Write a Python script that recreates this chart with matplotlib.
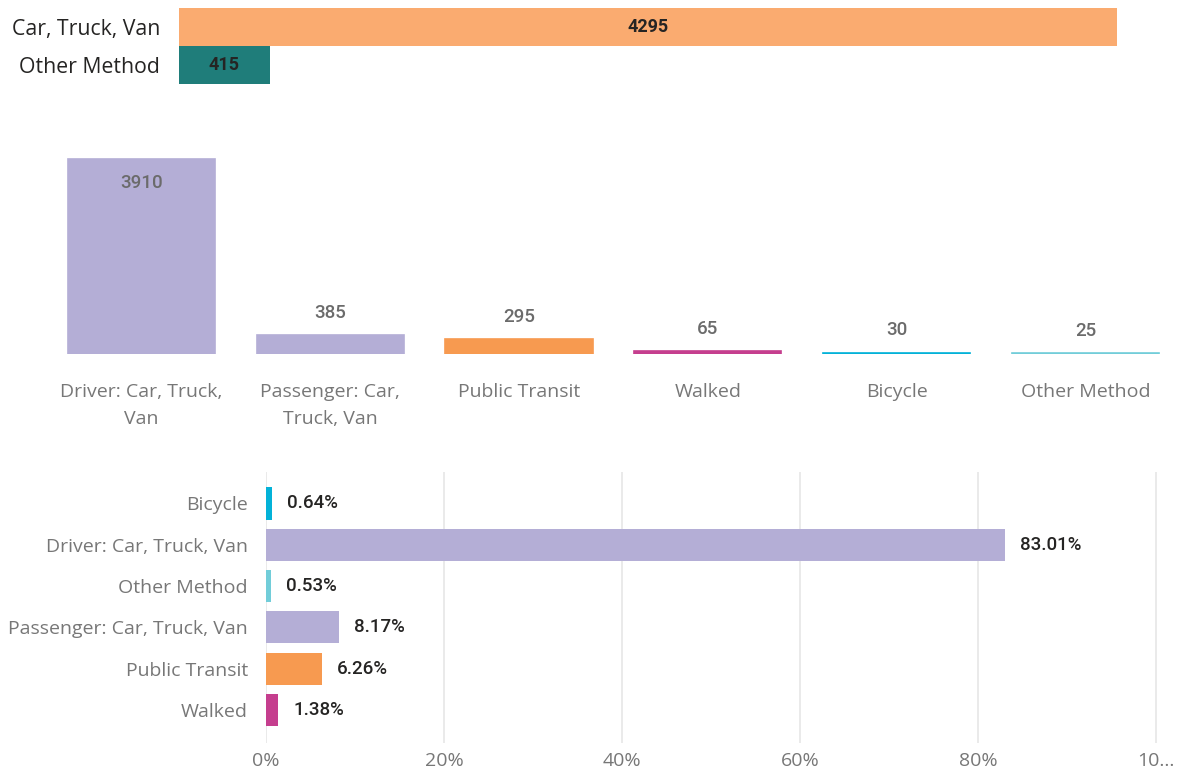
import matplotlib
matplotlib.use("Agg")
import matplotlib.pyplot as plt

# ---- data ----
top_cats = ["Car, Truck, Van", "Other Method"]
top_vals = [4295, 415]
top_colors = ["#FAAB70", "#1F7D7A"]

mid_cats = ["Driver: Car, Truck,\nVan", "Passenger: Car,\nTruck, Van", "Public Transit",
            "Walked", "Bicycle", "Other Method"]
mid_vals = [3910, 385, 295, 65, 30, 25]
mid_colors = ["#B4AED6", "#B4AED6", "#F79A50", "#C53E8E", "#03B2D8", "#72CDD9"]

bot_cats = ["Bicycle", "Driver: Car, Truck, Van", "Other Method",
            "Passenger: Car, Truck, Van", "Public Transit", "Walked"]
bot_vals = [0.64, 83.01, 0.53, 8.17, 6.26, 1.38]
bot_colors = ["#03B2D8", "#B4AED6", "#72CDD9", "#B4AED6", "#F79A50", "#C53E8E"]
bot_ticks = [0, 20, 40, 60, 80, 100]
bot_ticklabels = ["0%", "20%", "40%", "60%", "80%", "10..."]

W, H = 1177, 773
fig = plt.figure(figsize=(W / 100, H / 100), dpi=100)

LABEL_FONT = "Open Sans"
NUM_FONT = "Roboto"

def ax_px(left, top, right, bottom):
    return fig.add_axes([left / W, 1 - bottom / H, (right - left) / W, (bottom - top) / H])

def clean(ax):
    for s in ax.spines.values():
        s.set_visible(False)
    ax.tick_params(length=0)

# ---- panel 1 ----
ax1 = ax_px(179, 8, 1177, 84)
clean(ax1)
ax1.barh(range(len(top_cats)), top_vals, height=1.0, color=top_colors)
ax1.set_ylim(1.5, -0.5)
ax1.set_xlim(0, 4570)
ax1.set_xticks([])
ax1.set_yticks(range(len(top_cats)))
ax1.set_yticklabels(top_cats, fontsize=15.3, color="#252423", family=LABEL_FONT)
ax1.tick_params(axis="y", pad=13.5)
for i, v in enumerate(top_vals):
    ax1.text(v / 2, i, str(v), ha="center", va="center", fontsize=13,
             color="#252423", family=NUM_FONT, fontweight="bold")

# ---- panel 2 ----
ax2 = ax_px(47, 140, 1177, 354)
clean(ax2)
ax2.bar(range(len(mid_cats)), mid_vals, width=0.78, color=mid_colors,
        edgecolor=mid_colors, linewidth=1.2)
ax2.set_xlim(-0.5, 5.485)
ax2.set_ylim(0, 4291)
ax2.set_yticks([])
ax2.set_xticks(range(len(mid_cats)))
ax2.set_xticklabels(mid_cats, fontsize=14, color="#777777", family=LABEL_FONT,
                    linespacing=1.62)
ax2.tick_params(axis="x", pad=21)
for i, v in enumerate(mid_vals):
    off = -17 if v > 2000 else 16
    ax2.annotate(str(v), (i, v), xytext=(0, off), textcoords="offset points",
                 ha="center", va="center", fontsize=13.5, color="#6B6B6B",
                 family=NUM_FONT, fontweight="medium")

# ---- panel 3 ----
ax3 = ax_px(266, 472, 1160, 743)
clean(ax3)
ax3.set_axisbelow(True)
ax3.barh(range(len(bot_cats)), bot_vals, height=0.78, color=bot_colors)
ax3.set_ylim(5.8, -0.76)
ax3.set_xlim(0, 100.45)
ax3.set_xticks(bot_ticks)
ax3.set_xticklabels(bot_ticklabels, fontsize=14, color="#777777", family=LABEL_FONT)
ax3.grid(axis="x", color="#E6E6E6", linewidth=1.2)
ax3.set_yticks(range(len(bot_cats)))
ax3.set_yticklabels(bot_cats, fontsize=14, color="#777777", family=LABEL_FONT)
ax3.tick_params(axis="y", pad=13)
ax3.tick_params(axis="x", pad=6.5)
for i, v in enumerate(bot_vals):
    ax3.annotate(f"{v:.2f}%", (v, i), xytext=(11, 0), textcoords="offset points",
                 ha="left", va="center", fontsize=13.5, color="#252423",
                 family=NUM_FONT, fontweight="medium")

fig.savefig("out.png", dpi=100)
